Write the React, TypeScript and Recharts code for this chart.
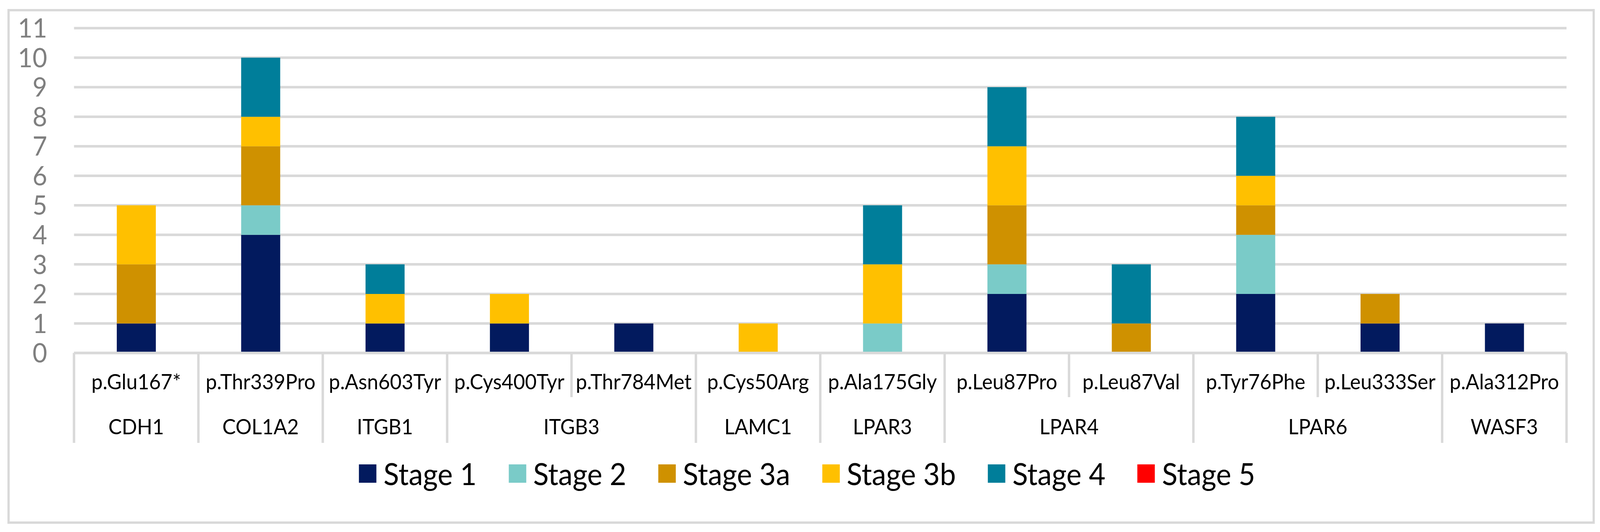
import React from 'react';
import { BarChart, Bar, XAxis, YAxis, CartesianGrid, Legend } from 'recharts';

// ---------- data ----------
const MUTATIONS = [
  'p.Glu167*', 'p.Thr339Pro', 'p.Asn603Tyr', 'p.Cys400Tyr', 'p.Thr784Met', 'p.Cys50Arg',
  'p.Ala175Gly', 'p.Leu87Pro', 'p.Leu87Val', 'p.Tyr76Phe', 'p.Leu333Ser', 'p.Ala312Pro',
];
const GENES = [
  'CDH1', 'COL1A2', 'ITGB1', 'ITGB3', 'ITGB3', 'LAMC1',
  'LPAR3', 'LPAR4', 'LPAR4', 'LPAR6', 'LPAR6', 'WASF3',
];
const STAGES = ['Stage 1', 'Stage 2', 'Stage 3a', 'Stage 3b', 'Stage 4', 'Stage 5'];
const STAGE_1 = [1, 4, 1, 1, 1, 0, 0, 2, 0, 2, 1, 1];
const STAGE_2 = [0, 1, 0, 0, 0, 0, 1, 1, 0, 2, 0, 0];
const STAGE_3A = [2, 2, 0, 0, 0, 0, 0, 2, 1, 1, 1, 0];
const STAGE_3B = [2, 1, 1, 1, 0, 1, 2, 2, 0, 1, 0, 0];
const STAGE_4 = [0, 2, 1, 0, 0, 0, 2, 2, 2, 2, 0, 0];
const STAGE_5 = [0, 0, 0, 0, 0, 0, 0, 0, 0, 0, 0, 0];
const Y_TICKS = [0, 1, 2, 3, 4, 5, 6, 7, 8, 9, 10, 11];

const SERIES = [STAGE_1, STAGE_2, STAGE_3A, STAGE_3B, STAGE_4, STAGE_5];
const COLORS = ['#021a5e', '#7acbc8', '#cf9100', '#ffc000', '#007e9a', '#ff0000'];

const data = MUTATIONS.map((m, i) => {
  const row: Record<string, any> = { mutation: m, gene: GENES[i] };
  STAGES.forEach((s, k) => {
    row[s] = SERIES[k][i];
  });
  return row;
});

// ---------- layout ----------
const W = 4302;
const H = 1361;
const Y_AXIS_W = 100;
const MARGIN = { top: 72, right: 90, bottom: 218, left: 99 };
const X_AXIS_H = 240;
const PLOT_W = W - MARGIN.left - Y_AXIS_W - MARGIN.right;
const FONT = 'Lato, "Open Sans", sans-serif';
const GRID = '#d9d9d9';

function CategoryTick(props: any) {
  const { x, y, payload, index } = props;
  const n = MUTATIONS.length;
  const bw = PLOT_W / n;
  const isGroupStart = index === 0 || GENES[index] !== GENES[index - 1];
  let groupSize = 1;
  if (isGroupStart) {
    while (index + groupSize < n && GENES[index + groupSize] === GENES[index]) groupSize++;
  }
  const leftX = x - bw / 2;
  const rightX = x + bw / 2;
  const longLen = 230;
  const shortLen = 113;
  return (
    <g>
      <line
        x1={leftX}
        x2={leftX}
        y1={y}
        y2={y + (isGroupStart ? longLen : shortLen)}
        stroke={GRID}
        strokeWidth={6.5}
      />
      {index === n - 1 && (
        <line x1={rightX} x2={rightX} y1={y} y2={y + longLen} stroke={GRID} strokeWidth={6.5} />
      )}
      <text x={x} y={y + 93} textAnchor="middle" fontFamily={FONT} fontSize={54} fill="#000">
        {payload.value}
      </text>
      {isGroupStart && (
        <text
          x={x + ((groupSize - 1) * bw) / 2}
          y={y + 208}
          textAnchor="middle"
          fontFamily={FONT}
          fontSize={54}
          fill="#000"
        >
          {GENES[index]}
        </text>
      )}
    </g>
  );
}

const renderLegend = () => (
  <div
    style={{
      display: 'flex',
      justifyContent: 'center',
      alignItems: 'center',
      height: 100,
      gap: 86,
      paddingLeft: 38,
      boxSizing: 'border-box',
    }}
  >
    {STAGES.map((s, i) => (
      <div key={s} style={{ display: 'flex', alignItems: 'center' }}>
        <span
          style={{ display: 'inline-block', width: 47, height: 47, background: COLORS[i], marginRight: 19 }}
        />
        <span style={{ fontFamily: FONT, fontSize: 77, lineHeight: '77px', color: '#000', whiteSpace: 'nowrap' }}>
          {s}
        </span>
      </div>
    ))}
  </div>
);

export default function App() {
  const vw = typeof window !== 'undefined' ? window.innerWidth : W;
  const sx = vw > 0 && vw < W ? vw / W : 1;
  return (
    <div
      style={{
        position: 'absolute',
        left: 0,
        top: 0,
        width: W,
        height: H,
        background: '#fff',
        transform: `scale(${sx}, 1)`,
        transformOrigin: '0 0',
      }}
    >
      <div
        style={{
          position: 'absolute',
          left: 20,
          top: 23,
          width: 4268,
          height: 1317,
          border: `6px solid ${GRID}`,
          boxSizing: 'border-box',
          pointerEvents: 'none',
        }}
      />
      <BarChart width={W} height={H} data={data} margin={MARGIN}>
        <CartesianGrid vertical={false} stroke={GRID} strokeWidth={6.5} />
        <XAxis
          dataKey="mutation"
          interval={0}
          height={X_AXIS_H}
          tickSize={0}
          tickMargin={0}
          tickLine={false}
          axisLine={{ stroke: GRID, strokeWidth: 6.5 }}
          tick={(p: any) => <CategoryTick {...p} />}
        />
        <YAxis
          type="number"
          domain={[0, 11]}
          ticks={Y_TICKS}
          interval={0}
          width={Y_AXIS_W}
          axisLine={false}
          tickLine={false}
          tickSize={0}
          tickMargin={72}
          tick={{ fill: '#7f7f7f', fontSize: 68, fontFamily: FONT }}
        />
        {STAGES.map((s, i) => (
          <Bar key={s} dataKey={s} stackId="a" fill={COLORS[i]} barSize={105} isAnimationActive={false} />
        ))}
        <Legend
          verticalAlign="middle"
          align="center"
          layout="horizontal"
          wrapperStyle={{ top: 1161, left: 0, width: W, height: 100 }}
          content={renderLegend}
        />
      </BarChart>
    </div>
  );
}
